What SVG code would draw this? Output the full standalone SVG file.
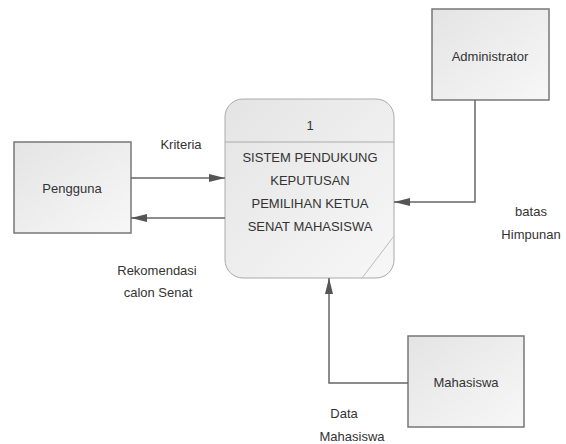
<svg xmlns="http://www.w3.org/2000/svg" width="566" height="444" viewBox="0 0 566 444">
<defs>
<linearGradient id="g" x1="0" y1="0" x2="1" y2="1">
<stop offset="0" stop-color="#e4e4e4"/>
<stop offset="1" stop-color="#f7f7f7"/>
</linearGradient>
<marker id="ah" viewBox="0 0 16 10" refX="16" refY="5" markerWidth="16" markerHeight="10" markerUnits="userSpaceOnUse" orient="auto">
<path d="M0,1 L16,5 L0,9 Z" fill="#555"/>
</marker>
<style>
.box{fill:url(#g);stroke:#777;stroke-width:1.5}
.t{font-family:"Liberation Sans",Arial,sans-serif;font-size:13px;fill:#333;text-anchor:middle}
.c{fill:none;stroke:#666;stroke-width:1.5;marker-end:url(#ah)}
</style>
</defs>
<rect width="566" height="444" fill="#fff"/>
<g id="pengguna">
<rect class="box" x="14" y="142" width="117" height="91"/>
<text class="t" x="72" y="193">Pengguna</text>
</g>
<g id="administrator">
<rect class="box" x="432" y="9" width="117" height="91"/>
<text class="t" x="490" y="61">Administrator</text>
</g>
<g id="mahasiswa">
<rect class="box" x="408" y="336" width="116" height="91"/>
<text class="t" x="466" y="387">Mahasiswa</text>
</g>
<g id="proses">
<rect x="225" y="99" width="169" height="179" rx="18" ry="18" fill="url(#g)" stroke="#aaa" stroke-width="1"/>
<line x1="225" y1="142" x2="394" y2="142" stroke="#aaa" stroke-width="1"/>
<line x1="394" y1="236" x2="362" y2="278" stroke="#bbb" stroke-width="1"/>
<text class="t" x="310" y="130">1</text>
<text class="t" x="310" y="162">SISTEM PENDUKUNG</text>
<text class="t" x="310" y="185">KEPUTUSAN</text>
<text class="t" x="310" y="208">PEMILIHAN KETUA</text>
<text class="t" x="310" y="231">SENAT MAHASISWA</text>
</g>
<g id="connectors">
<path class="c" d="M131,178 L225,178"/>
<path class="c" d="M225,218 L131,218"/>
<path class="c" d="M475,100 L475,202 L394,202"/>
<path class="c" d="M408,383 L329,383 L329,278"/>
<text class="t" x="181" y="149">Kriteria</text>
<text class="t" x="157" y="275">Rekomendasi</text>
<text class="t" x="158" y="297">calon Senat</text>
<text class="t" x="531" y="216">batas</text>
<text class="t" x="531" y="239">Himpunan</text>
<text class="t" x="344" y="418">Data</text>
<text class="t" x="352" y="441">Mahasiswa</text>
</g>
</svg>
